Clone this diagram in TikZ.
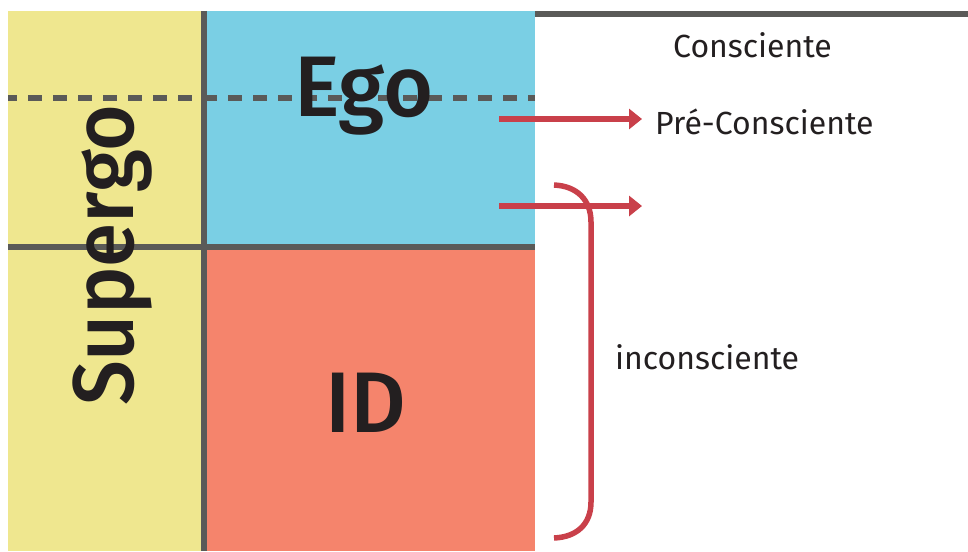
\documentclass[tikz,border=0pt]{standalone}
\usepackage{fontspec}
\setmainfont{Fira Sans}[UprightFont={* Regular}]
\newfontfamily\bigfont{Fira Sans}[UprightFont={* Medium}]
\newfontfamily\bignarrow{Fira Sans}[UprightFont={* Medium}, FakeStretch=0.93]
\usetikzlibrary{arrows.meta}
\definecolor{cyel}{HTML}{EFE78F}
\definecolor{cblu}{HTML}{7ACFE4}
\definecolor{csal}{HTML}{F5846C}
\definecolor{cgry}{HTML}{5A5A58}
\definecolor{cred}{HTML}{C9404A}
\definecolor{ctxt}{HTML}{231F20}
\tikzset{
  grayline/.style={draw=cgry, line width=6pt},
  redline/.style={draw=cred, line width=5.5pt},
  redarrow/.style={redline, -{Triangle[length=13pt,width=20pt]}},
  bigtxt/.style={text=ctxt, font=\bigfont\fontsize{86}{86}\selectfont, inner sep=0pt, anchor=base},
  lbl/.style={text=ctxt, font=\fontsize{32}{32}\selectfont, inner sep=0pt, anchor=base west},
}
\begin{document}
\begin{tikzpicture}[x=1pt,y=-1pt]
\useasboundingbox (0,0) rectangle (968,551);
% fills
\fill[cyel] (8,11) rectangle (204,551);
\fill[cblu] (204,11) rectangle (535,246);
\fill[csal] (204,246) rectangle (535,551);
% lines
\draw[grayline] (204,11) -- (204,551);
\draw[grayline] (8,247) -- (535,247);
\draw[grayline] (535,14) -- (968,14);
\draw[draw=cgry, line width=6pt, dash pattern=on 13.5pt off 11.5pt, dash phase=5pt] (8,98) -- (535,98);
% texts
\node[bigtxt] (ego) at (364,116) {Ego};
\node[bigtxt] (id) at (366,432) {ID};
\node[bigtxt, font=\bignarrow\fontsize{86}{86}\selectfont, rotate=90, anchor=base west] (sup) at (133,406) {Supergo};
\node[lbl] (cons) at (673,57) {Consciente};
\node[lbl] (pre) at (655,134) {Pré-Consciente};
\node[lbl] (inc) at (615,369) {inconsciente};
% arrows
\coordinate (a1s) at (499,119);
\coordinate (a1e) at (642,119);
\coordinate (a2s) at (499,206);
\coordinate (a2e) at (642,206);
\draw[redarrow] (a1s) -- (a1e);
\draw[redarrow] (a2s) -- (a2e);
% bracket
\coordinate (bt) at (554,185);
\coordinate (bb) at (554,538);
\draw[redline] (bt) .. controls (577,186) and (591,200) .. (591,222)
  -- (591,502) .. controls (591,524) and (577,537) .. (bb);
\end{tikzpicture}
\end{document}
